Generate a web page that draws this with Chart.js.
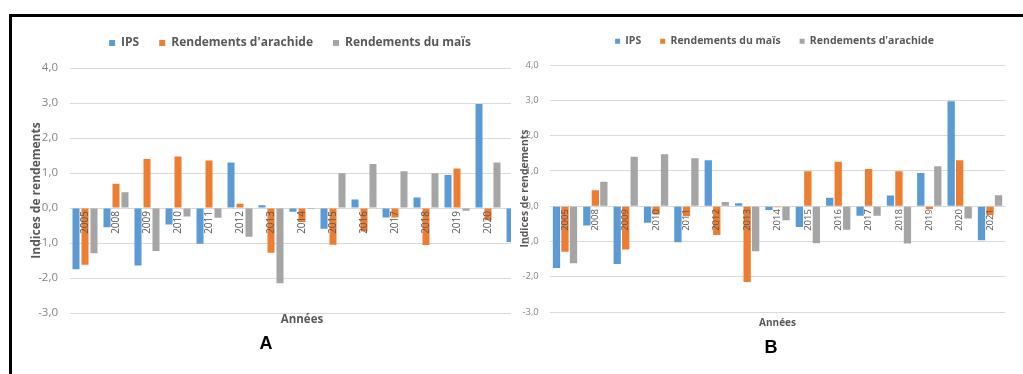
<!DOCTYPE html>
<html>
<head>
<meta charset="utf-8">
<script src="https://cdn.jsdelivr.net/npm/chart.js@4.4.1/dist/chart.umd.min.js"></script>
<style>
  html, body { margin: 0; padding: 0; background: #fff; }
  body { width: 1023px; height: 374px; position: relative; overflow: hidden; }
  #frame { position: absolute; left: 9px; top: 14px; width: 1014px; height: 360px;
           border-top: 3px solid #000; border-left: 3px solid #000; box-sizing: border-box;
           z-index: 5; pointer-events: none; }
  #wrapA { position: absolute; left: 12px; top: 17px; width: 560px; height: 357px; z-index: 1; }
  #wrapB { position: absolute; left: 511px; top: 17px; width: 512px; height: 357px; z-index: 2; background: #fff; }
  .panel { position: absolute; z-index: 3; font: bold 18px "Liberation Sans", Arial, sans-serif;
           line-height: 1; color: #000; transform: translate(-50%, -50%); }
</style>
</head>
<body>
<div id="wrapA"><canvas id="chartA" width="560" height="357"></canvas></div>
<div id="wrapB"><canvas id="chartB" width="512" height="357"></canvas></div>
<div class="panel" style="left:266px;top:343px;">A</div>
<div class="panel" style="left:771px;top:347px;">B</div>
<div id="frame"></div>

<script>
// Years on the category axis
const years = ['2005', '2008', '2009', '2010', '2011', '2012', '2013', '2014',
               '2015', '2016', '2017', '2018', '2019', '2020', '2021'];

// Standardised indices per year
const ips      = [-1.75, -0.55, -1.64, -0.47, -1.02, 1.30, 0.08, -0.11, -0.59, 0.24, -0.27, 0.30, 0.94, 2.97, -0.97];
const arachide = [-1.62, 0.69, 1.40, 1.47, 1.36, 0.12, -1.28, -0.40, -1.05, -0.67, -0.27, -1.06, 1.13, -0.35, 0.31];
const mais     = [-1.29, 0.45, -1.23, -0.24, -0.28, -0.82, -2.15, -0.03, 0.99, 1.26, 1.05, 0.99, -0.08, 1.30, -0.25];

// Value axis ticks
const yTicks = [-3, -2, -1, 0, 1, 2, 3, 4];

const BLUE = '#5B9BD5', ORANGE = '#ED7D31', GREY = '#A5A5A5';
const TEXT = '#595959';

Chart.defaults.font.family = '"Open Sans", sans-serif';

// Extra room under the legend, and a horizontal nudge of the legend row
const legendTweak = {
  id: 'legendTweak',
  beforeInit(chart, args, opts) {
    const fit = chart.legend.fit;
    chart.legend.fit = function () {
      fit.call(this);
      this.height += opts.extra || 0;
    };
  },
  afterLayout(chart, args, opts) {
    const lg = chart.legend;
    lg.left += opts.shift || 0;
    lg.right += opts.shift || 0;
  }
};

function fmt(v) {
  return v.toFixed(1).replace('.', ',');
}

function buildChart(id, series, lay) {
  const datasets = series.map(s => ({
    label: s.label,
    data: s.data,
    backgroundColor: s.color,
    borderWidth: 0,
    categoryPercentage: lay.catPct,
    barPercentage: lay.barPct
  }));

  return new Chart(document.getElementById(id), {
    type: 'bar',
    data: { labels: years, datasets },
    plugins: [legendTweak],
    options: {
      responsive: false,
      animation: false,
      events: [],
      layout: { padding: lay.padding },
      plugins: {
        legendTweak: { extra: lay.legendExtra, shift: lay.legendShift },
        tooltip: { enabled: false },
        legend: {
          position: 'top',
          labels: {
            boxWidth: lay.box, boxHeight: lay.box, padding: lay.legendPad,
            color: TEXT, font: { size: lay.legendFont, weight: 'bold' }
          }
        },
        subtitle: {
          display: true, text: 'Années', position: 'bottom', fullSize: false,
          color: TEXT, font: { size: lay.xTitleFont, weight: 'bold' },
          padding: { top: lay.xTitlePad, bottom: 0 }
        }
      },
      scales: {
        x: {
          position: { y: 0 },
          offset: true,
          grid: { display: false, drawTicks: false },
          border: { display: false },
          ticks: {
            autoSkip: false, minRotation: 90, maxRotation: 90,
            padding: 3, color: TEXT, font: { size: lay.xTickFont }, z: 1
          }
        },
        y: {
          min: -3, max: 4,
          afterFit: (scale) => { scale.width = lay.axisWidth; },
          afterBuildTicks: (scale) => { scale.ticks = yTicks.map(v => ({ value: v })); },
          grid: { color: '#D9D9D9', drawTicks: false, lineWidth: 1 },
          border: { display: false },
          ticks: {
            padding: lay.yTickPad, color: '#858585', font: { size: lay.yTickFont },
            callback: (v) => fmt(v)
          },
          title: {
            display: true, text: 'Indices de rendements', color: TEXT,
            font: { size: lay.yTitleFont, weight: 'bold' },
            padding: { top: lay.yTitleOffset, bottom: 0 }
          }
        }
      }
    }
  });
}

// Panel A: arachide in orange, maïs in grey
buildChart('chartA', [
  { label: 'IPS', data: ips, color: BLUE },
  { label: "Rendements d'arachide", data: arachide, color: ORANGE },
  { label: 'Rendements du maïs', data: mais, color: GREY }
], {
  catPct: 0.87, barPct: 0.78,
  padding: { top: 0, right: 37.5, bottom: 47.2, left: 0 },
  legendExtra: 9, legendShift: 16.75, legendPad: 20, legendFont: 12, box: 6,
  xTitleFont: 11.5, xTitlePad: 0, xTickFont: 10,
  axisWidth: 57.5, yTickPad: 11.5, yTickFont: 11.5,
  yTitleFont: 12, yTitleOffset: 17.8
});

// Panel B: maïs in orange, arachide in grey
buildChart('chartB', [
  { label: 'IPS', data: ips, color: BLUE },
  { label: 'Rendements du maïs', data: mais, color: ORANGE },
  { label: "Rendements d'arachide", data: arachide, color: GREY }
], {
  catPct: 0.84, barPct: 0.86,
  padding: { top: 0, right: 17.8, bottom: 45, left: 0 },
  legendExtra: 8.5, legendShift: 16.4, legendPad: 19, legendFont: 10.5, box: 5,
  xTitleFont: 10, xTitlePad: 5, xTickFont: 9.5,
  axisWidth: 38.8, yTickPad: 11, yTickFont: 9.5,
  yTitleFont: 10.4, yTitleOffset: 7.8
});
</script>
</body>
</html>
